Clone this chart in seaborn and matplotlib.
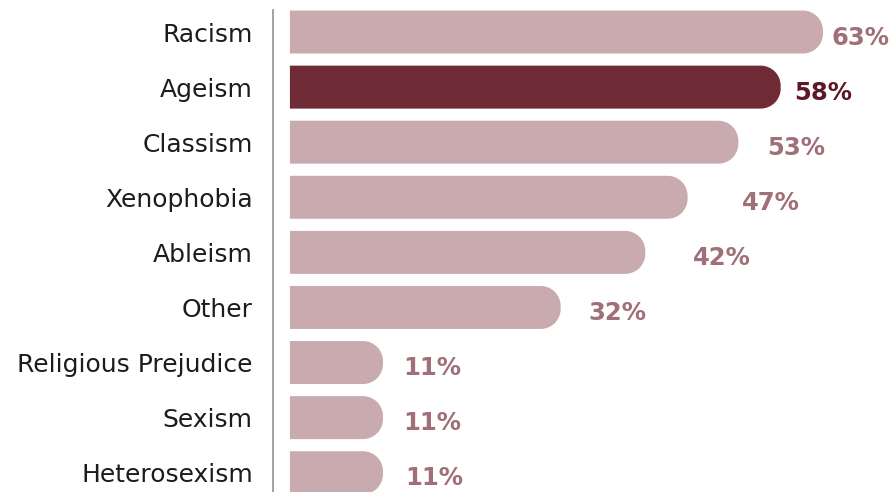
import numpy as np
import pandas as pd
import matplotlib
matplotlib.use("Agg")
import matplotlib.pyplot as plt
from matplotlib.path import Path
from matplotlib.patches import PathPatch
from matplotlib.transforms import Affine2D
import seaborn as sns

# Share of respondents reporting each form of discrimination (%)
categories = ["Racism", "Ageism", "Classism", "Xenophobia", "Ableism", "Other",
              "Religious Prejudice", "Sexism", "Heterosexism"]
values = [63, 58, 53, 47, 42, 32, 11, 11, 11]
highlight = "Ageism"

# Styling
bar_light = "#c9abaf"
bar_dark = "#6f2b35"
text_light = "#a06f78"
text_dark = "#5e1826"
label_gap_px = [9, 14, 29, 54, 48, 28, 20, 20, 22]

sns.set_style("white")
plt.rcParams["font.family"] = ["DejaVu Sans"]

df = pd.DataFrame({"category": categories, "value": values})
palette = {c: (bar_dark if c == highlight else bar_light) for c in categories}

fig = plt.figure(figsize=(8.94, 4.92), dpi=100)
ax = fig.add_axes([273 / 894, 0.0, 1 - 273 / 894, 1 - 10 / 492])

sns.barplot(data=df, x="value", y="category", hue="category", palette=palette,
            legend=False, width=0.78, saturation=1, ax=ax, orient="h")

ax.set_xlim(-2.0, (894 - 290) / 8.46)
ax.set_ylim(8.35, -0.40)

# Pixel scale of each axis, used to give the bar ends circular caps
p0 = ax.transData.transform((0, 0))
p1 = ax.transData.transform((1, 1))
px_x = abs(p1[0] - p0[0])
px_y = abs(p1[1] - p0[1])


def rounded_bar_path(x0, y0, w, h, r_px):
    rx = min(r_px / px_x, w)
    ry = min(r_px / px_y, h / 2)
    verts = [(x0, y0), (x0 + w - rx, y0)]
    codes = [Path.MOVETO, Path.LINETO]
    arc1 = Path.arc(-90, 0)
    t1 = Affine2D().scale(rx, ry).translate(x0 + w - rx, y0 + ry)
    verts += list(t1.transform(arc1.vertices[1:]))
    codes += list(arc1.codes[1:])
    verts.append((x0 + w, y0 + h - ry))
    codes.append(Path.LINETO)
    arc2 = Path.arc(0, 90)
    t2 = Affine2D().scale(rx, ry).translate(x0 + w - rx, y0 + h - ry)
    verts += list(t2.transform(arc2.vertices[1:]))
    codes += list(arc2.codes[1:])
    verts += [(x0, y0 + h), (x0, y0)]
    codes += [Path.LINETO, Path.CLOSEPOLY]
    return Path(verts, codes)


bars = list(ax.patches)
for bar in bars:
    x0, y0 = bar.get_x(), bar.get_y()
    w, h = bar.get_width(), bar.get_height()
    if w <= 0:
        continue
    path = rounded_bar_path(x0, y0, w, h, 20)
    ax.add_patch(PathPatch(path, facecolor=bar.get_facecolor(), edgecolor="none"))
    bar.set_visible(False)

# Value labels to the right of each bar
for i, (cat, val) in enumerate(zip(categories, values)):
    color = text_dark if cat == highlight else text_light
    ax.annotate(f"{val}%", xy=(val, i), xytext=(label_gap_px[i] * 0.72, -12.5 * 0.72),
                textcoords="offset points", ha="left", va="baseline",
                fontsize=17.5, fontweight="bold", color=color, annotation_clip=False)

for s in ["top", "right", "bottom"]:
    ax.spines[s].set_visible(False)
ax.spines["left"].set_color("#9a9a9a")
ax.spines["left"].set_linewidth(1.3)
ax.spines["left"].set_position(("data", -2.0))

ax.xaxis.set_visible(False)
ax.set_ylabel("")
ax.tick_params(axis="y", left=False, pad=11, labelsize=18, labelcolor="#1c1c1c")

fig.savefig("out.png", dpi=100)
